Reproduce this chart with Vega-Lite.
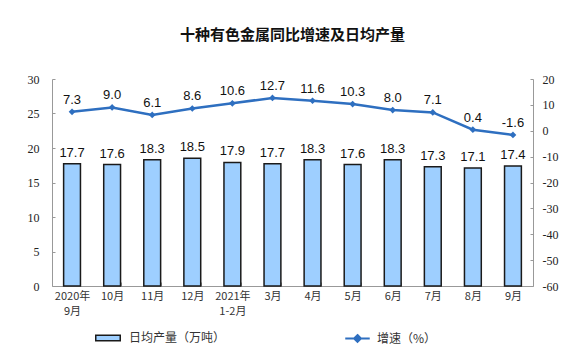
{
  "$schema": "https://vega.github.io/schema/vega-lite/v6.json",
  "width": 481,
  "height": 207,
  "autosize": "none",
  "padding": {"left": 52, "top": 79, "right": 42, "bottom": 69},
  "background": "white",
  "title": {
    "text": "十种有色金属同比增速及日均产量",
    "font": "Noto Sans CJK SC",
    "fontSize": 15,
    "fontWeight": "bold",
    "color": "#111",
    "offset": 30,
    "anchor": "middle"
  },
  "config": {
    "locale": {"number": {"decimal": ".", "thousands": ",", "grouping": [3], "currency": ["", ""], "minus": "-"}},
    "view": {"stroke": null},
    "axis": {"grid": false, "domainColor": "#999", "tickColor": "#999", "labelOverlap": false}
  },
  "data": {
    "values": [
      {"m": "2020年\n9月", "q": 17.7, "g": 7.3},
      {"m": "10月", "q": 17.6, "g": 9.0},
      {"m": "11月", "q": 18.3, "g": 6.1},
      {"m": "12月", "q": 18.5, "g": 8.6},
      {"m": "2021年\n1-2月", "q": 17.9, "g": 10.6},
      {"m": "3月", "q": 17.7, "g": 12.7},
      {"m": "4月", "q": 18.3, "g": 11.6},
      {"m": "5月", "q": 17.6, "g": 10.3},
      {"m": "6月", "q": 18.3, "g": 8.0},
      {"m": "7月", "q": 17.3, "g": 7.1},
      {"m": "8月", "q": 17.1, "g": 0.4},
      {"m": "9月", "q": 17.4, "g": -1.6}
    ]
  },
  "encoding": {
    "x": {
      "field": "m",
      "type": "nominal",
      "sort": null,
      "scale": {"paddingInner": 0.58, "paddingOuter": 0.29},
      "axis": {
        "title": null,
        "labelAngle": 0,
        "labelExpr": "split(datum.label, '\\n')",
        "labelFont": "Noto Sans CJK SC",
        "labelFontSize": 11,
        "labelColor": "#333",
        "labelLineHeight": 15,
        "tickBand": "extent",
        "tickSize": -4,
        "labelPadding": 8,
        "domainColor": "#999"
      }
    }
  },
  "layer": [
    {
      "encoding": {
        "y": {
          "field": "q",
          "type": "quantitative",
          "scale": {"domain": [0, 30]},
          "axis": {
            "title": null,
            "values": [0, 5, 10, 15, 20, 25, 30],
            "labelOverlap": false,
            "labelFont": "Liberation Serif",
            "labelFontSize": 12,
            "labelColor": "#222",
            "tickSize": -3,
            "labelPadding": 16
          }
        }
      },
      "layer": [
        {
          "mark": {"type": "bar", "stroke": "#1a1a1a", "strokeWidth": 1.5},
          "encoding": {
            "fill": {
              "datum": "日均产量（万吨）",
              "scale": {"range": ["#9ecfff"]},
              "legend": {
                "title": null,
                "orient": "none",
                "legendX": 43,
                "legendY": 246,
                "symbolType": "M-1,-0.22H1V0.22H-1Z",
                "symbolSize": 600,
                "symbolStrokeColor": "#1a1a1a",
                "symbolStrokeWidth": 1.5,
                "labelFont": "Noto Sans CJK SC",
                "labelFontSize": 12,
                "labelColor": "#333",
                "labelOffset": 8
              }
            }
          }
        },
        {
          "mark": {"type": "text", "baseline": "bottom", "dy": -4, "font": "Liberation Sans", "fontSize": 13, "color": "#111"},
          "encoding": {
            "text": {"field": "q", "type": "quantitative", "format": ".1f"}
          }
        }
      ]
    },
    {
      "encoding": {
        "y": {
          "field": "g",
          "type": "quantitative",
          "scale": {"domain": [-60, 20]},
          "axis": {
            "title": null,
            "orient": "right",
            "values": [-60, -50, -40, -30, -20, -10, 0, 10, 20],
            "labelOverlap": false,
            "labelFont": "Liberation Serif",
            "labelFontSize": 12,
            "labelColor": "#222",
            "tickSize": -3,
            "labelPadding": 12
          }
        }
      },
      "layer": [
        {
          "mark": {"type": "line", "strokeWidth": 2.5},
          "encoding": {
            "stroke": {
              "datum": "增速（%）",
              "scale": {"range": ["#2e6fc0"]},
              "legend": {
                "title": null,
                "orient": "none",
                "legendX": 292,
                "legendY": 246,
                "symbolType": "M-1,0H1M0,-0.28L0.28,0L0,0.28L-0.28,0Z",
                "symbolSize": 600,
                "symbolFillColor": "#2e6fc0",
                "symbolStrokeWidth": 2,
                "labelFont": "Noto Sans CJK SC",
                "labelFontSize": 12,
                "labelColor": "#333",
                "labelOffset": 6
              }
            }
          }
        },
        {
          "mark": {"type": "point", "shape": "diamond", "filled": true, "size": 45, "color": "#2e6fc0", "opacity": 1},
          "encoding": {}
        },
        {
          "mark": {"type": "text", "baseline": "bottom", "dy": -5, "font": "Liberation Sans", "fontSize": 13, "color": "#111"},
          "encoding": {
            "text": {"field": "g", "type": "quantitative", "format": ".1f"}
          }
        }
      ]
    }
  ],
  "resolve": {"scale": {"y": "independent"}}
}
